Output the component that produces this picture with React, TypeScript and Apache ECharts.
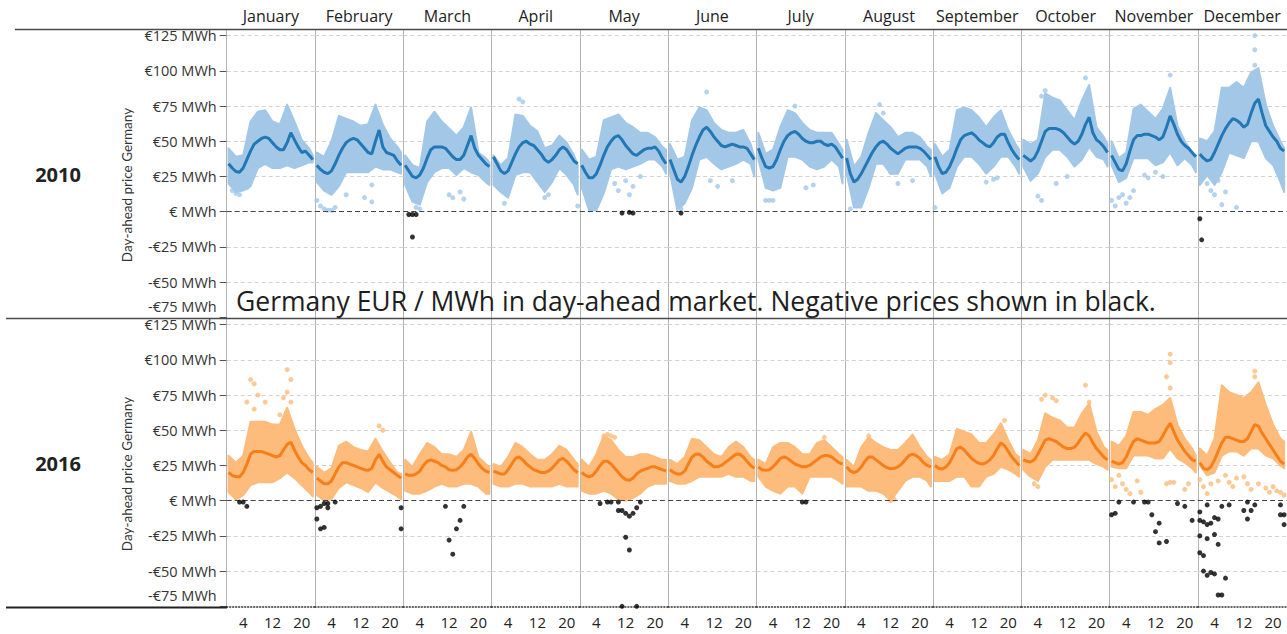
import React, { useEffect, useRef } from 'react';
import * as echarts from 'echarts';

const MONTHS = ['January', 'February', 'March', 'April', 'May', 'June', 'July', 'August', 'September', 'October', 'November', 'December'];
const YEARS = ['2010', '2016'];
const HOURS = [0, 1, 2, 3, 4, 5, 6, 7, 8, 9, 10, 11, 12, 13, 14, 15, 16, 17, 18, 19, 20, 21, 22, 23];
const ENV_HOURS = [0, 2, 4, 6, 8, 10, 12, 14, 16, 18, 20, 22, 23];
const Y_TICKS = [-75, -50, -25, 0, 25, 50, 75, 100, 125];
const GRID_VALUES = [-50, -25, 25, 50, 75, 100, 125];
const X_TICKS = [4, 12, 20];

// hourly average price per month (2010)
const MEAN_2010 = [
  [34, 31, 28.5, 28, 31, 37, 43, 48, 50, 52, 53, 52, 49, 46, 44, 44, 49, 56, 51, 46, 42, 43, 40, 37],
  [33, 30, 28, 27, 29, 34, 40, 45, 49, 51, 52, 51, 48, 45, 42, 41, 50, 58, 46, 42, 41, 40, 36, 33],
  [33, 29, 25, 24, 26, 31, 38, 44, 46, 46, 46, 45, 42, 39, 37, 37, 40, 47, 54, 45, 40, 37, 34, 32],
  [39, 34, 29, 27, 29, 35, 41, 46, 49, 50, 48, 47, 44, 41, 37, 35, 37, 40, 44, 46, 44, 40, 36, 34],
  [33, 28, 24, 24, 27, 33, 40, 46, 50, 53, 54, 51, 47, 44, 41, 40, 42, 44, 45, 45, 46, 43, 38, 34],
  [37, 30, 23, 21, 25, 32, 40, 47, 53, 58, 60, 57, 53, 50, 47, 46, 47, 48, 47, 46, 46, 45, 41, 37],
  [45, 38, 32, 31, 32, 37, 44, 50, 54, 56, 57, 55, 52, 50, 49, 49, 50, 50, 48, 47, 48, 46, 42, 38],
  [38, 27, 21, 23, 27, 32, 37, 42, 46, 49, 50, 48, 45, 43, 41, 43, 45, 46, 46, 46, 45, 43, 40, 37],
  [39, 32, 27, 28, 32, 38, 45, 51, 54, 55, 56, 54, 51, 49, 47, 46, 49, 53, 55, 55, 49, 44, 40, 37],
  [40, 38, 36, 38, 43, 50, 57, 59, 59, 59, 58, 56, 53, 50, 48, 50, 55, 62, 67, 56, 51, 49, 46, 42],
  [40, 35, 30, 29, 34, 43, 51, 54, 54, 55, 55, 54, 53, 51, 53, 60, 68, 62, 55, 50, 47, 45, 42, 39],
  [41, 38, 36, 37, 42, 48, 54, 59, 63, 66, 65, 63, 60, 62, 70, 77, 80, 70, 61, 57, 53, 50, 45, 43],
];
// dense cloud lower / upper edge at ENV_HOURS (2010)
const LOW_2010 = [
  [20, 14, 15, 18, 31, 34, 31, 31, 33, 31, 33, 35, 35],
  [21, 15, 12, 18, 28, 28, 28, 28, 32, 30, 30, 28, 27],
  [19, 7, 5, 21, 28, 31, 31, 26, 31, 28, 26, 21, 19],
  [19, 14, 10, 26, 28, 28, 21, 14, 21, 31, 26, 19, 12],
  [17, 1, 1, 13, 30, 32, 30, 32, 34, 37, 37, 32, 27],
  [27, 1, 6, 17, 37, 39, 34, 30, 32, 34, 37, 34, 25],
  [37, 17, 15, 17, 39, 39, 37, 32, 30, 32, 37, 32, 20],
  [27, 3, 3, 17, 34, 34, 27, 27, 37, 37, 37, 32, 25],
  [27, 13, 17, 32, 39, 39, 34, 27, 32, 39, 39, 32, 27],
  [32, 22, 27, 39, 44, 44, 39, 32, 37, 46, 39, 37, 32],
  [33, 21, 24, 38, 38, 38, 33, 35, 42, 33, 38, 33, 28],
  [19, 26, 19, 28, 42, 40, 38, 50, 50, 38, 33, 21, 14],
];
const HIGH_2010 = [
  [45, 39, 40, 64, 71, 72, 64, 62, 76, 64, 51, 45, 40],
  [42, 39, 50, 68, 66, 64, 61, 62, 76, 62, 52, 46, 42],
  [40, 33, 31, 64, 71, 64, 59, 54, 60, 74, 42, 38, 35],
  [40, 33, 38, 69, 68, 61, 57, 45, 47, 54, 49, 40, 33],
  [44, 37, 39, 65, 67, 69, 63, 60, 56, 56, 53, 46, 44],
  [48, 37, 39, 65, 74, 72, 63, 58, 56, 56, 58, 48, 39],
  [56, 41, 44, 60, 72, 70, 63, 58, 56, 56, 56, 48, 44],
  [51, 32, 39, 56, 70, 65, 60, 53, 56, 56, 53, 46, 44],
  [48, 39, 44, 72, 74, 72, 67, 60, 67, 72, 58, 48, 44],
  [51, 48, 51, 84, 81, 79, 72, 65, 79, 90, 60, 53, 48],
  [50, 38, 42, 73, 76, 71, 66, 73, 88, 61, 50, 42, 40],
  [52, 50, 57, 88, 88, 92, 88, 99, 102, 76, 61, 50, 45],
];
// isolated hourly prices outside the dense cloud [hour, price] (2010)
const OUTLIERS_2010 = [
  [[1, 15], [2, 13], [3, 12], [5, 17]],
  [[0, 8], [1, 4], [2, 2], [3, 1], [4, 1], [5, 3], [8, 12], [13, 10], [15, 7], [15, 19]],
  [[12, 12], [13, 10], [15, 14], [16, 9], [3, 3], [4, 2]],
  [[7, 80], [8, 78], [14, 10], [15, 12], [23, 4], [3, 6]],
  [[9, 20], [10, 15], [12, 22], [13, 12], [14, 18], [16, 25]],
  [[10, 85], [11, 22], [13, 18], [17, 22], [3, 2]],
  [[2, 8], [3, 8], [4, 8], [13, 17], [15, 19], [10, 75]],
  [[9, 76], [10, 70], [12, 28], [14, 20], [18, 22], [1, 2]],
  [[0, 3], [14, 21], [16, 23], [17, 24]],
  [[5, 82], [6, 86], [17, 95], [4, 11], [5, 8], [9, 20], [12, 25]],
  [[16, 97], [0, 8], [1, 4], [2, 10], [3, 12], [4, 6], [5, 10], [6, 15], [9, 26], [10, 24], [12, 28], [14, 25]],
  [[15, 125], [15, 115], [15, 104], [2, 20], [3, 15], [4, 12], [5, 22], [6, 5], [7, 14], [10, 3]],
];
// negative prices [hour, price] (2010)
const NEGATIVE_2010 = [
  [], [],
  [[1, -2], [2, -2], [3, -2], [2, -18]],
  [],
  [[11, -1], [13, -0.5], [14, -1]],
  [[3, -1]],
  [], [], [], [], [],
  [[0, -5], [0.5, -20]],
];

// hourly average price per month (2016)
const MEAN_2016 = [
  [20, 18, 17, 17, 20, 26, 33, 35, 35, 35, 34, 33, 32, 31, 32, 36, 40, 41.5, 36, 31, 27, 25, 22, 20],
  [16, 14, 12, 12, 14, 19, 24, 27, 27, 26, 25, 24, 23, 22, 21.5, 23, 29, 33, 28, 24, 22, 20, 18, 16],
  [19, 18, 18, 19, 21, 25, 28, 29, 28, 27, 25, 24, 22, 21.5, 22, 24, 27, 31, 33, 30, 26, 23, 21, 20],
  [21, 20, 19, 19, 22, 26, 30, 31, 29, 26, 24, 22, 21, 20, 20, 21, 23, 26, 29, 30, 28, 25, 22, 20],
  [20, 18, 17, 18, 21, 25, 28, 28, 26, 23, 20, 17, 15, 14.5, 16, 19, 21, 22, 23, 24, 24, 23, 22, 21],
  [22, 20, 19, 19, 21, 26, 31, 33, 33, 31, 28, 26, 24, 24, 25, 27, 29, 31, 33, 33, 31, 28, 25, 23],
  [24, 22, 21.5, 22, 24, 27, 30, 31, 30, 28, 26, 25, 24, 24, 25, 27, 29, 31, 32, 32, 31, 29, 27, 26],
  [24, 21, 20, 21, 24, 28, 31, 31, 29, 27, 25, 23.5, 22.7, 23, 24, 26, 29, 32, 33, 32, 30, 27, 25, 24],
  [25, 23, 22.5, 24, 27, 32, 37, 38, 36, 33, 30, 28, 26.5, 26, 27, 29, 32, 37, 41, 39, 35, 31, 28, 25],
  [29, 28, 27.5, 29, 33, 38, 43, 44, 43, 42, 40, 38, 37, 37, 38, 41, 45, 48, 46, 41, 37, 34, 31, 29],
  [28, 27, 26, 27, 31, 37, 42, 44, 43, 42, 41, 41, 41, 42, 46, 51, 55, 49, 43, 39, 35, 32, 29, 28],
  [27, 23, 22, 24, 29, 35, 41, 45, 45, 44, 43, 42, 42, 44, 49, 54, 53, 48, 44, 40, 36, 32, 28, 26],
];
const LOW_2016 = [
  [6, 1, 4, 11, 13, 13, 13, 16, 20, 16, 11, 6, 3],
  [4, 0, 1, 9, 13, 11, 9, 6, 13, 9, 6, 3, 1],
  [7, 5, 5, 7, 10, 12, 10, 10, 12, 12, 10, 5, 5],
  [12, 10, 10, 12, 12, 10, 10, 10, 10, 12, 10, 10, 10],
  [7, 5, 5, 7, 5, 1, 0, 2, 5, 10, 12, 12, 12],
  [14, 12, 12, 14, 17, 17, 17, 17, 19, 17, 17, 14, 14],
  [17, 10, 7, 5, 10, 10, 5, 17, 17, 17, 17, 14, 12],
  [10, 10, 10, 7, 7, 5, 0, 7, 14, 17, 17, 14, 10],
  [14, 14, 14, 17, 17, 10, 10, 17, 19, 24, 22, 19, 17],
  [22, 17, 14, 24, 29, 29, 29, 29, 29, 29, 26, 24, 22],
  [24, 23, 23, 32, 32, 32, 30, 30, 37, 30, 27, 23, 20],
  [25, 18, 20, 32, 35, 35, 32, 37, 37, 32, 30, 25, 23],
];
const HIGH_2016 = [
  [32, 27, 32, 56, 56, 56, 54, 54, 66, 51, 39, 30, 27],
  [24, 20, 23, 39, 42, 38, 36, 35, 44, 35, 27, 20, 19],
  [29, 24, 33, 41, 38, 33, 33, 31, 36, 49, 31, 26, 24],
  [26, 24, 31, 41, 38, 33, 29, 29, 33, 39, 36, 29, 26],
  [29, 24, 33, 46, 43, 36, 31, 31, 33, 33, 31, 29, 29],
  [29, 26, 31, 44, 43, 38, 33, 31, 38, 42, 38, 31, 29],
  [29, 26, 38, 41, 41, 38, 33, 33, 41, 43, 38, 33, 31],
  [29, 24, 38, 45, 41, 38, 36, 36, 41, 47, 38, 31, 29],
  [31, 29, 33, 51, 49, 47, 41, 41, 47, 55, 43, 33, 31],
  [36, 33, 43, 62, 59, 57, 52, 52, 62, 69, 49, 38, 36],
  [42, 39, 46, 63, 63, 61, 65, 68, 73, 54, 44, 37, 32],
  [37, 32, 44, 82, 77, 75, 73, 77, 84, 68, 54, 44, 42],
];
const OUTLIERS_2016 = [
  [[6, 86], [7, 83], [8, 75], [10, 70], [5, 70], [16, 93], [17, 86], [16, 77], [17, 70], [15, 73], [16, 63], [7, 65], [14, 61]],
  [[17, 53], [18, 50]],
  [],
  [],
  [[6, 46], [7, 47], [8, 46], [9, 45]],
  [],
  [[18, 45]],
  [[6, 46], [12, 0], [13, 1]],
  [[19, 57]],
  [[5, 72], [6, 75], [8, 73], [9, 71], [17, 82], [18, 70], [3, 12], [4, 10]],
  [[16, 104], [16, 98], [15, 88], [16, 80], [0, 15], [1, 10], [2, 18], [3, 12], [4, 8], [5, 5], [7, 14], [8, 6], [15, 12], [16, 13], [17, 13], [20, 8], [21, 12]],
  [[15, 92], [15, 88], [0, 15], [1, 10], [2, 5], [3, 12], [5, 14], [7, 18], [8, 13], [9, 10], [10, 16], [12, 17], [13, 12], [14, 8], [16, 12], [18, 9], [19, 6], [20, 10], [21, 7], [22, 6], [23, 4]],
];
const NEGATIVE_2016 = [
  [[3, -1], [4, -1], [5, -4]],
  [[0, -5], [1, -4], [1, -20], [2, -2], [2, -19], [3, -5], [3, -2], [0, -13], [5, -1], [23, -5], [23, -20]],
  [[11, -4], [16, -4], [15, -14], [14, -20], [12, -28], [13, -38]],
  [],
  [[5, -2], [7, -1], [8, -1], [10, -1], [10, -7], [11, -7], [12, -9], [13, -11], [14, -9], [15, -5], [16, -1], [12, -26], [13, -35], [11, -75], [15, -75]],
  [],
  [[12, -1], [13, -1]],
  [], [], [],
  [[0, -10], [1, -9], [2, -1], [6, -1], [9, -1], [10, -1], [11, -10], [12, -22], [13, -16], [13, -30], [15, -29], [18, -2], [20, -4], [22, -14]],
  [[0, -8], [0, -14], [0, -25], [0, -37], [1, -39], [2, -3], [1, -15], [2, -17], [3, -16], [2, -27], [4, -12], [5, -13], [4, -24], [5, -31], [1, -50], [2, -53], [3, -51], [4, -52], [7, -55], [5, -67], [6, -67], [6, -4], [8, -3], [12, -7], [13, -13], [14, -7], [15, -3], [13, -1], [22, -3], [22, -10], [23, -10], [23, -17]],
];

const TITLE = 'Germany EUR / MWh in day-ahead market. Negative prices shown in black.';
const Y_NAME = 'Day-ahead price Germany';

const FONT = '"Open Sans", Lato, sans-serif';
const NAME_FONT = 'Lato, "Open Sans", sans-serif';
const ROW_TOP = [30, 319];
const PANEL_H = 288;
const LEFT0 = 226.7;
const COL_W = 88.3;
const BAND_COLORS = ['#a3c8e7', '#fdbb7c'];
const LINE_COLORS = ['#2277b4', '#f47f1b'];

function yLabel(v: number): string {
  if (v === 0) return '€ MWh';
  if (v < 0) return `-€${-v} MWh`;
  return `€${v} MWh`;
}

function bandRenderer(color: string) {
  return (params: any, api: any) => {
    if (params.dataIndexInside !== 0) return null;
    const n = params.dataInsideLength;
    const top: number[][] = [];
    const bottom: number[][] = [];
    for (let j = 0; j < n; j++) {
      const x = api.value(0, j);
      top.push(api.coord([x, api.value(2, j)]));
      bottom.push(api.coord([x, api.value(1, j)]));
    }
    return {
      type: 'polygon',
      silent: true,
      shape: { points: top.concat(bottom.reverse()) },
      style: { fill: color, stroke: color, lineWidth: 2, lineJoin: 'round' },
    };
  };
}

function buildOption() {
  const grid: any[] = [];
  const xAxis: any[] = [];
  const yAxis: any[] = [];
  const series: any[] = [];
  const yearData = [
    { mean: MEAN_2010, low: LOW_2010, high: HIGH_2010, out: OUTLIERS_2010, neg: NEGATIVE_2010 },
    { mean: MEAN_2016, low: LOW_2016, high: HIGH_2016, out: OUTLIERS_2016, neg: NEGATIVE_2016 },
  ];
  for (let r = 0; r < 2; r++) {
    for (let m = 0; m < 12; m++) {
      const i = r * 12 + m;
      grid.push({ left: LEFT0 + COL_W * m, top: ROW_TOP[r], width: COL_W, height: PANEL_H, outerBoundsMode: 'none' });
      if (r === 0) {
        xAxis.push({
          type: 'value', gridIndex: i, min: -0.5, max: 23.6, position: 'top',
          axisLine: { show: false }, axisTick: { show: false }, axisLabel: { show: false }, splitLine: { show: false },
          name: MONTHS[m], nameLocation: 'middle', nameGap: 6,
          nameTextStyle: { fontSize: 16, color: '#222', fontFamily: FONT },
        });
      } else {
        xAxis.push({
          type: 'value', gridIndex: i, min: -0.5, max: 23.6, position: 'bottom',
          axisLine: { show: true, onZero: false, lineStyle: { color: '#333', type: [1, 2], width: 1.5 } },
          axisTick: { show: false },
          axisLabel: { show: true, customValues: X_TICKS, margin: 7, fontSize: 15, color: '#222', fontFamily: FONT },
          splitLine: { show: false },
        });
      }
      yAxis.push({
        type: 'value', gridIndex: i, min: -75.5, max: 129,
        axisLine: { show: true, onZero: false, lineStyle: { color: '#b3b3b3', width: 1 } },
        axisTick: { show: m === 0, customValues: Y_TICKS, length: 7, lineStyle: { color: '#555' } },
        axisLabel: {
          show: m === 0, customValues: Y_TICKS, margin: 10, fontSize: 14.5, color: '#333', fontFamily: FONT,
          formatter: (v: number) => (v === -75 ? `{low|${yLabel(v)}}` : yLabel(v)),
          rich: { low: { padding: [0, 0, 21, 0], fontSize: 14.5, color: '#333', fontFamily: FONT } },
        },
        splitLine: { show: false },
        name: m === 0 ? Y_NAME : '', nameLocation: 'middle', nameGap: 93,
        nameTextStyle: { fontSize: 13.5, color: '#333', fontFamily: NAME_FONT, padding: [0, 22, 0, 0] },
      });
      const d = yearData[r];
      const lo = d.low[m];
      const hi = d.high[m];
      series.push({
        type: 'custom', xAxisIndex: i, yAxisIndex: i, silent: true, z: 2,
        renderItem: bandRenderer(BAND_COLORS[r]),
        encode: { x: 0, y: [1, 2] },
        data: ENV_HOURS.map((h, k) => [h, lo[k], hi[k]]),
        markLine: {
          silent: true, symbol: ['none', 'none'], label: { show: false }, animation: false, z: 1,
          data: GRID_VALUES.map((v) => ({ yAxis: v, lineStyle: { color: '#d2d2d2', type: [4, 3], width: 1 } })),
        },
      });
      series.push({
        type: 'scatter', xAxisIndex: i, yAxisIndex: i, silent: true, z: 3, symbolSize: 5,
        itemStyle: { color: BAND_COLORS[r] },
        data: d.out[m],
      });
      series.push({
        type: 'line', xAxisIndex: i, yAxisIndex: i, symbol: 'none', silent: true, z: 5,
        lineStyle: { color: LINE_COLORS[r], width: 3 },
        data: HOURS.map((h, k) => [h, d.mean[m][k]]),
      });
      series.push({
        type: 'scatter', xAxisIndex: i, yAxisIndex: i, silent: true, z: 6, symbolSize: 5,
        itemStyle: { color: '#000' },
        data: d.neg[m],
        markLine: {
          silent: true, symbol: ['none', 'none'], label: { show: false }, animation: false,
          data: [{ yAxis: 0, lineStyle: { color: '#444', type: [5, 3], width: 1 } }],
        },
      });
    }
  }
  return {
    animation: false,
    backgroundColor: '#fff',
    title: {
      text: TITLE, left: 236, top: 287, padding: 0,
      textStyle: { fontSize: 26.5, fontWeight: 'normal', color: '#1e1e1e', fontFamily: FONT },
    },
    grid, xAxis, yAxis, series,
    graphic: [
      { type: 'line', silent: true, z: 10, shape: { x1: 15, y1: 29.5, x2: 1287, y2: 29.5 }, style: { stroke: '#4a4a4a', lineWidth: 1.5 } },
      { type: 'line', silent: true, z: 10, shape: { x1: 6, y1: 318.5, x2: 1287, y2: 318.5 }, style: { stroke: '#4a4a4a', lineWidth: 1.5 } },
      { type: 'line', silent: true, z: 10, shape: { x1: 6, y1: 607.5, x2: 227, y2: 607.5 }, style: { stroke: '#222', lineWidth: 2 } },
      { type: 'text', silent: true, x: 58, y: 174, style: { text: YEARS[0], fontSize: 20, fontWeight: 'bold', fontFamily: FONT, fill: '#222', align: 'center', verticalAlign: 'middle' } },
      { type: 'text', silent: true, x: 58, y: 463, style: { text: YEARS[1], fontSize: 20, fontWeight: 'bold', fontFamily: FONT, fill: '#222', align: 'center', verticalAlign: 'middle' } },
    ],
  };
}

export default function App() {
  const ref = useRef<HTMLDivElement>(null);
  useEffect(() => {
    document.body.style.margin = '0';
    if (!ref.current) return;
    const chart = echarts.init(ref.current, undefined, { renderer: 'svg' });
    chart.setOption(buildOption() as any);
    return () => chart.dispose();
  }, []);
  return <div ref={ref} style={{ width: 1287, height: 634 }} />;
}
